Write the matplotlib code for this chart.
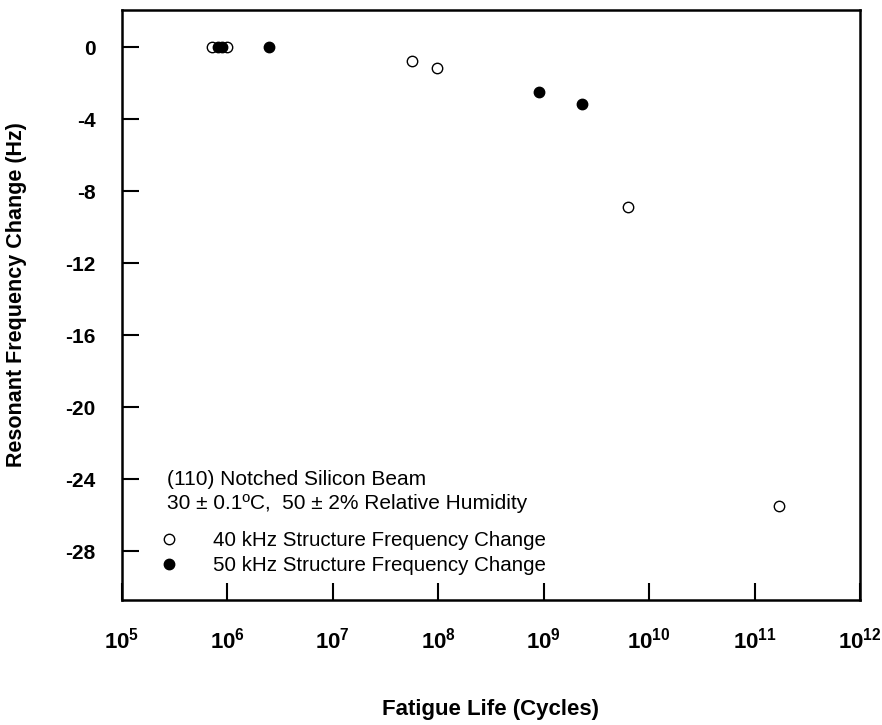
import numpy as np
import matplotlib
matplotlib.use('Agg')
import matplotlib.pyplot as plt

cycles_40k = [7.2e5, 1.0e6, 5.6e7, 9.8e7, 6.3e9, 1.7e11]
dfreq_40k = [0.0, 0.0, -0.78, -1.17, -8.9, -25.5]
cycles_50k = [8.2e5, 8.9e5, 2.5e6, 9.1e8, 2.3e9]
dfreq_50k = [0.0, 0.0, 0.0, -2.5, -3.17]

xticks = [1e5, 1e6, 1e7, 1e8, 1e9, 1e10, 1e11, 1e12]
xticklabels = [r'$\mathbf{10^{%d}}$' % e for e in range(5, 13)]
yticks = [0, -4, -8, -12, -16, -20, -24, -28]

plt.rcParams['font.family'] = ['Liberation Sans', 'DejaVu Sans']
plt.rcParams['mathtext.fontset'] = 'custom'
plt.rcParams['mathtext.rm'] = 'Liberation Sans'
plt.rcParams['mathtext.bf'] = 'Liberation Sans:bold'

fig = plt.figure(figsize=(8.82, 7.25), dpi=100)
fig.set_facecolor('w')
ax = fig.add_axes([122/882, 1 - 600/725, 738/882, 590/725])

ax.plot(cycles_40k, dfreq_40k, 'o', ms=7.5, mfc='white', mec='black', mew=1.0,
        label='40 kHz Structure Frequency Change')
ax.plot(cycles_50k, dfreq_50k, 'o', ms=7.5, mfc='black', mec='black', mew=1.0,
        label='50 kHz Structure Frequency Change')

ax.set_xscale('log')
ax.set_xlim(1e5, 1e12)
ax.set_ylim(-30.7, 2.06)
ax.set_xticks(xticks)
ax.set_xticklabels(xticklabels, fontsize=16)
ax.minorticks_off()
ax.set_yticks(yticks)
ax.set_yticklabels([str(v) for v in yticks], fontsize=15, fontweight='bold')
ax.tick_params(direction='in', length=12, width=1.5, pad=19)
ax.tick_params(axis='x', pad=20)
for s in ax.spines.values():
    s.set_linewidth(1.8)

ax.set_xlabel('Fatigue Life (Cycles)', fontsize=16, fontweight='bold')
ax.xaxis.set_label_coords(0.5, -0.168)
ax.set_ylabel('Resonant Frequency Change (Hz)', fontsize=15.5, fontweight='bold')
ax.yaxis.set_label_coords(-0.129, 0.517)

ax.text(0.061, 0.2034, '(110) Notched Silicon Beam', transform=ax.transAxes,
        fontsize=15, va='center', ha='left')
ax.text(0.061, 0.164, '30 \u00b1 0.1\u00baC,  50 \u00b1 2% Relative Humidity',
        transform=ax.transAxes, fontsize=15, va='center', ha='left')

ax.legend(loc='center left', bbox_to_anchor=(0.050, 0.0797), frameon=False,
          fontsize=14.8, handlelength=1.0, handletextpad=1.63, borderpad=0,
          borderaxespad=0, labelspacing=0.27, markerscale=1.0)

fig.savefig('out.png', dpi=100)
